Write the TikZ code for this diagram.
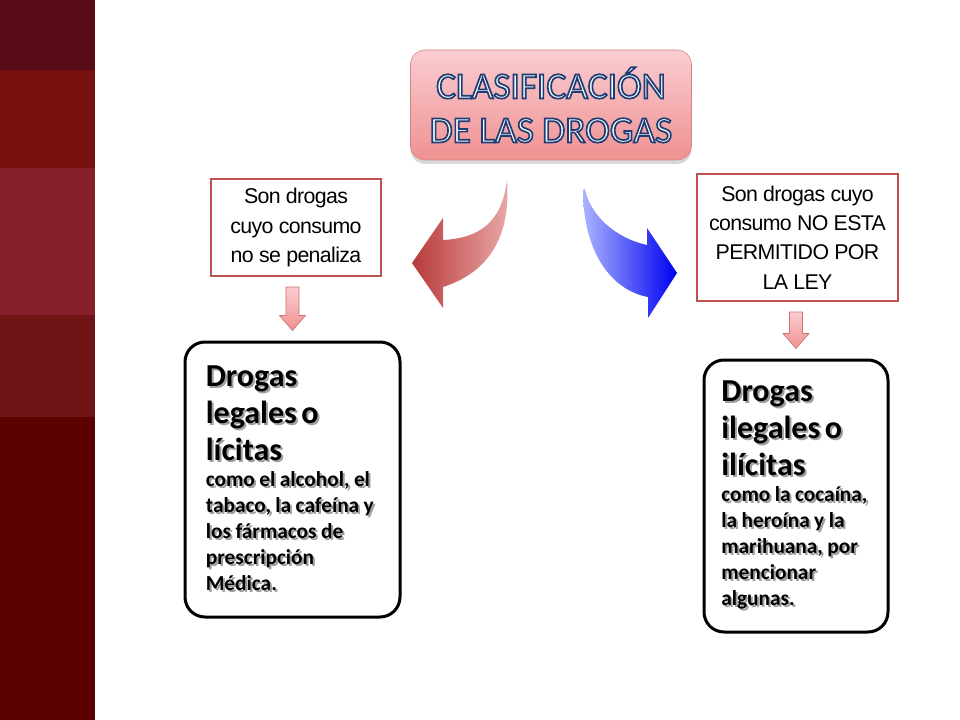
\documentclass[tikz,border=0pt]{standalone}
\usepackage{fontspec}
\usetikzlibrary{positioning,shadows,calc}
\setmainfont{Carlito}
\newfontfamily\arialf{Liberation Sans}[LetterSpace=-3]
\definecolor{bandaa}{HTML}{570C16}
\definecolor{bandab}{HTML}{771211}
\definecolor{bandac}{HTML}{85202A}
\definecolor{bandad}{HTML}{6E1414}
\definecolor{bandae}{HTML}{5C0000}
\definecolor{rojoborde}{HTML}{C0504D}
\definecolor{rosaa}{HTML}{FACDD2}
\definecolor{rosab}{HTML}{F09191}
\definecolor{celeste}{HTML}{F2F8FC}
\definecolor{rojoflecha}{HTML}{B83A3A}
\definecolor{rojoclaro}{HTML}{EBAAAA}
\definecolor{azulclaro}{HTML}{AAB4FF}
\definecolor{azulfuerte}{HTML}{0000F0}
\newcommand{\contorno}[1]{\special{pdf:literal direct 2 Tr 1.25 w 0.12 0.24 0.45 RG}#1\special{pdf:literal direct 0 Tr}}
\newcommand{\sombra}[1]{\makebox[0pt][l]{\hspace{1.5pt}\raisebox{-1.5pt}{\color{gray!75}#1}}#1}
\newcommand{\bajar}[2]{\draw[flecha] let \p1=($(#1.south)+(0,10)$), \p2=($(#2.north)-(0,10)$) in
  (\x2-4.9pt,\y1) -- (\x2+4.9pt,\y1) -- (\x2+4.9pt,\y2+11.25pt) -- (\x2+9.75pt,\y2+11.25pt)
  -- (\x2,\y2) -- (\x2-9.75pt,\y2+11.25pt) -- (\x2-4.9pt,\y2+11.25pt) -- cycle;}
\tikzset{
  titulo/.style={draw=rojoborde!70, top color=rosaa, bottom color=rosab, rounded corners=11pt,
    minimum width=210.75pt, minimum height=82.5pt, align=center, text=celeste,
    font=\fontsize{28}{33}\selectfont, drop shadow={shadow xshift=0pt, shadow yshift=-3pt, opacity=0.3}},
  desc/.style={draw=rojoborde, line width=1.5pt, fill=white, align=center, inner sep=0pt,
    font=\arialf\fontsize{16}{22}\selectfont},
  caja/.style={draw=black, line width=2.25pt, fill=white, rounded corners=15pt, align=left,
    inner sep=0pt, font=\bfseries},
  flecha/.style={draw=rojoborde!80, line width=0.5pt, top color=rosaa, bottom color=rosab}
}
\begin{document}
\begin{tikzpicture}[x=0.75pt,y=-0.75pt]
\useasboundingbox (0,0) rectangle (960,720);
\fill[white] (0,0) rectangle (960,720);
\foreach \ya/\yb/\c in {0/70/bandaa, 70/168/bandab, 168/315/bandac, 315/417/bandad, 417/720/bandae}
  \fill[\c] (0,\ya) rectangle (95,\yb);

\node[titulo] (clasif) at (551,105) {\contorno{CLASIFICACIÓN}\\\contorno{DE LAS DROGAS}};

\node[desc, minimum width=127.5pt, minimum height=72.75pt] (legdesc) at (296,227.5)
  {Son drogas\\cuyo consumo\\no se penaliza};
\node[desc, minimum width=150.75pt, minimum height=95.25pt] (ilegdesc) at (797.5,237.5)
  {Son drogas cuyo\\consumo NO ESTA\\PERMITIDO POR\\LA LEY};

\node[caja, minimum width=161.25pt, minimum height=206.25pt, text width=130pt] (legal) at (292.5,479.5)
  {{\fontsize{24}{27.75}\selectfont\sombra{Drogas}\\\sombra{legales o}\\\sombra{lícitas}\par}
   {\fontsize{16}{19.5}\selectfont\sombra{como el alcohol, el}\\\sombra{tabaco, la cafeína y}\\
   \sombra{los fármacos de}\\\sombra{prescripción}\\\sombra{Médica.}\par}};
\node[caja, minimum width=138pt, minimum height=204pt, text width=112pt] (ilegal) at (796,496)
  {{\fontsize{24}{27.75}\selectfont\sombra{Drogas}\\\sombra{ilegales o}\\\sombra{ilícitas}\par}
   {\fontsize{16}{19.5}\selectfont\sombra{como la cocaína,}\\\sombra{la heroína y la}\\
   \sombra{marihuana, por}\\\sombra{mencionar}\\\sombra{algunas.}\par}};

\shade[left color=rojoflecha, right color=rojoclaro] (507,180) .. controls (502,222) and (480,238) .. (443,240)
  -- (443,218) -- (412,263) -- (443,308) -- (443,287) .. controls (490,272) and (511,235) .. (507,180) -- cycle;
\shade[left color=azulclaro, right color=azulfuerte] (583,190) .. controls (583,250) and (610,290) .. (648,297)
  -- (648,318) -- (677,273) -- (647,228) -- (647,245) .. controls (615,238) and (590,215) .. (585,189) -- cycle;

\bajar{legdesc}{legal}
\bajar{ilegdesc}{ilegal}
\end{tikzpicture}
\end{document}
